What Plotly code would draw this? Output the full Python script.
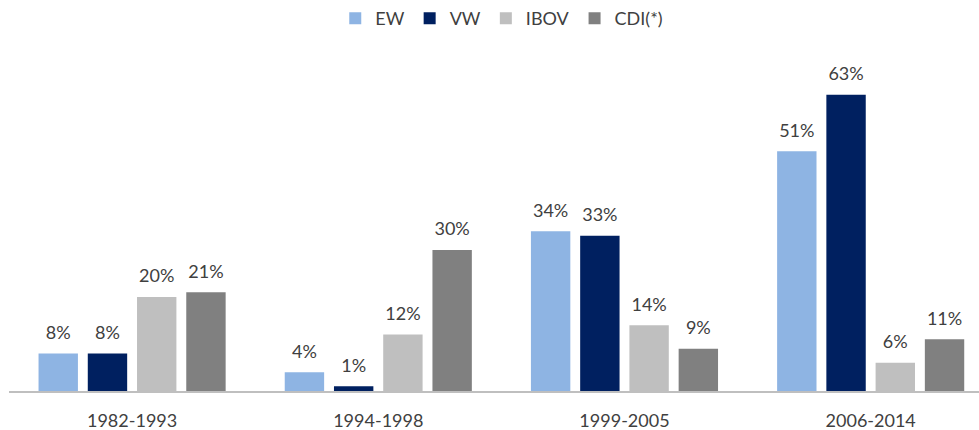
import plotly.graph_objects as go

categories = ["1982-1993", "1994-1998", "1999-2005", "2006-2014"]
series_names = ["EW", "VW", "IBOV", "CDI(*)"]
ew = [8, 4, 34, 51]
vw = [8, 1, 33, 63]
ibov = [20, 12, 14, 6]
cdi = [21, 30, 9, 11]
colors = ["#8EB4E3", "#002060", "#BFBFBF", "#808080"]

FONT = "Lato, 'Open Sans', sans-serif"
TXT = "#404040"
LABEL_GAP = 1.6  # extra space (in axis units) between bar top and its label

fig = go.Figure()
for name, vals, col in zip(series_names, [ew, vw, ibov, cdi], colors):
    fig.add_trace(go.Bar(
        x=categories, y=vals, name=name, offsetgroup=name,
        marker=dict(color=col, line=dict(width=0)),
        hoverinfo="x+y+name",
    ))
    # transparent spacer bar carrying the value label above each bar
    fig.add_trace(go.Bar(
        x=categories, y=[LABEL_GAP] * len(vals), base=vals, offsetgroup=name,
        customdata=vals, texttemplate="%{customdata}%", textposition="outside",
        textfont=dict(family=FONT, size=18, color=TXT),
        marker=dict(color="rgba(0,0,0,0)", line=dict(width=0)),
        showlegend=False, hoverinfo="skip", cliponaxis=False,
    ))

fig.update_layout(
    width=979, height=430,
    margin=dict(l=9, r=0, t=60, b=39),
    barmode="group", bargap=0.2, bargroupgap=0.2,
    plot_bgcolor="white", paper_bgcolor="white",
    font=dict(family=FONT, size=18, color=TXT),
    legend=dict(orientation="h", x=0.508, xanchor="center", y=1.0, yanchor="top",
                yref="container", font=dict(family=FONT, size=18, color=TXT),
                itemwidth=30, tracegroupgap=0),
    xaxis=dict(range=[-0.5, 3.44], showline=True, linecolor="#BFBFBF", linewidth=1.5,
               ticks="outside", ticklen=13, tickcolor="rgba(0,0,0,0)",
               tickfont=dict(family=FONT, size=18, color=TXT), showgrid=False),
    yaxis=dict(range=[0, 70.4], visible=False, showgrid=False, zeroline=False),
)

fig.write_html("out.html", config={"displayModeBar": False},
               post_script="document.body.style.margin='0';")
